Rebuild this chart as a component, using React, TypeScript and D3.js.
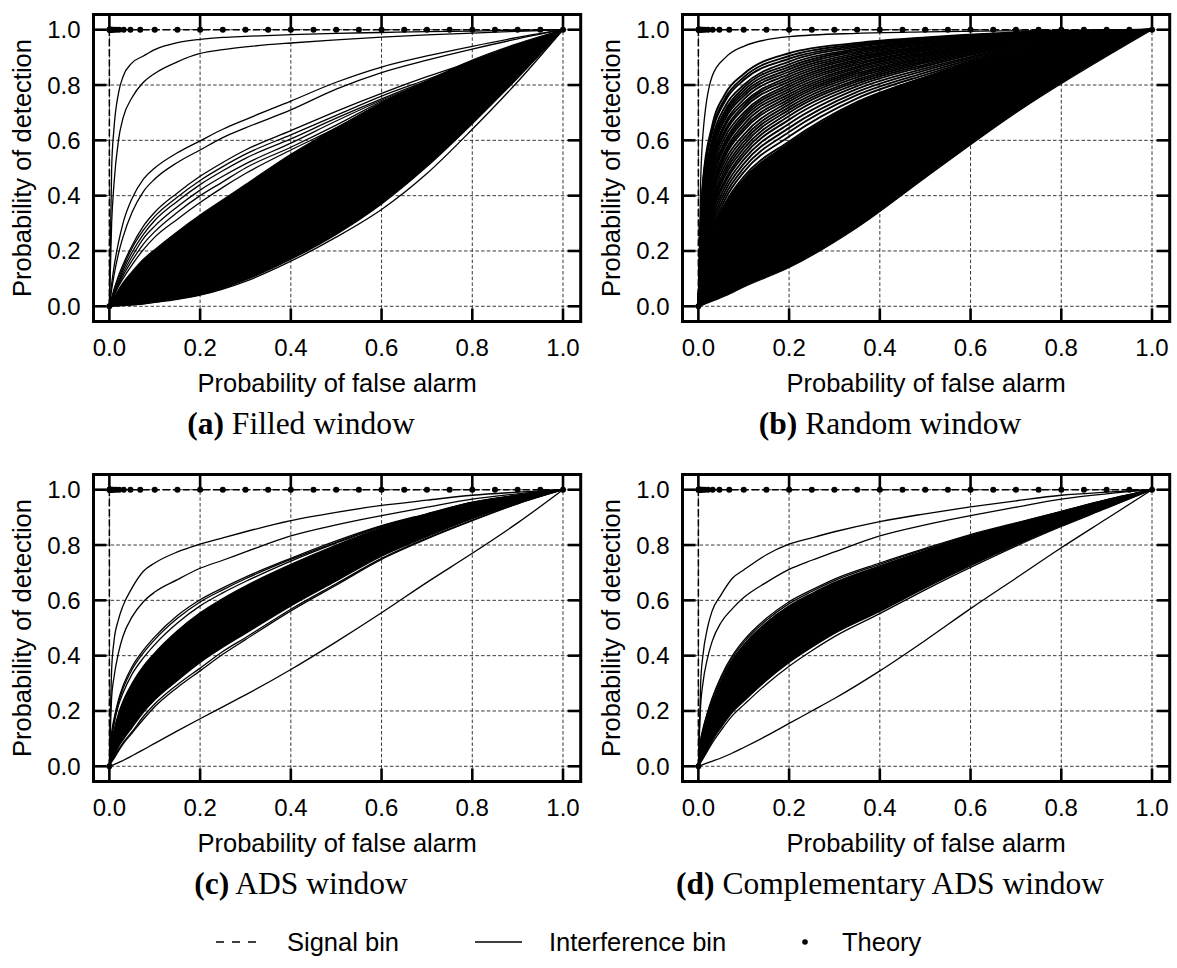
import React from "react";
import * as d3 from "d3";

// ---------- data ----------
const G = [0, 0.005, 0.01, 0.02, 0.03, 0.05, 0.075, 0.1, 0.15, 0.2, 0.25, 0.3, 0.4, 0.5, 0.6, 0.7, 0.8, 0.9, 1];
const GB = [0, 0.005, 0.01, 0.03, 0.06, 0.1, 0.2, 0.35, 0.5, 0.7, 1];

const tickValues = [0, 0.2, 0.4, 0.6, 0.8, 1.0];
const tickLabels = ["0.0", "0.2", "0.4", "0.6", "0.8", "1.0"];

const signalX = [0, 0, 1];
const signalY = [0, 1, 1];

const theoryX = [0, 0, 0.0005, 0.001, 0.0015, 0.0022, 0.0032, 0.0046, 0.0068, 0.01, 0.0147, 0.0215, 0.0316, 0.0464, 0.0681,
  0.1, 0.15, 0.2, 0.25, 0.3, 0.35, 0.4, 0.45, 0.5, 0.55, 0.6, 0.65, 0.7, 0.75, 0.8, 0.85, 0.9, 0.95, 1.0];
const theoryY = [0, 1, 1, 1, 1, 1, 1, 1, 1, 1, 1, 1, 1, 1, 1,
  1, 1, 1, 1, 1, 1, 1, 1, 1, 1, 1, 1, 1, 1, 1, 1, 1, 1, 1];

// (a) Filled window
const filledLines = [
  [0, 0.5, 0.64, 0.77, 0.83, 0.88, 0.905, 0.928, 0.953, 0.965, 0.972, 0.976, 0.982, 0.987, 0.99, 0.993, 0.995, 0.998, 1],
  [0, 0.3, 0.44, 0.6, 0.68, 0.755, 0.81, 0.842, 0.884, 0.914, 0.928, 0.938, 0.952, 0.963, 0.973, 0.981, 0.988, 0.994, 1],
  [0, 0.08, 0.14, 0.23, 0.3, 0.39, 0.46, 0.5, 0.555, 0.598, 0.64, 0.675, 0.742, 0.81, 0.865, 0.905, 0.94, 0.972, 1],
  [0, 0.06, 0.11, 0.19, 0.25, 0.34, 0.415, 0.46, 0.52, 0.565, 0.61, 0.645, 0.71, 0.785, 0.845, 0.89, 0.93, 0.967, 1],
  [0, 0.03, 0.06, 0.11, 0.15, 0.22, 0.29, 0.34, 0.41, 0.47, 0.52, 0.565, 0.635, 0.705, 0.77, 0.83, 0.885, 0.94, 1],
  [0, 0.028, 0.055, 0.1, 0.14, 0.21, 0.275, 0.325, 0.395, 0.455, 0.505, 0.55, 0.62, 0.69, 0.76, 0.82, 0.88, 0.938, 1],
  [0, 0.025, 0.05, 0.09, 0.13, 0.195, 0.26, 0.31, 0.38, 0.44, 0.49, 0.535, 0.605, 0.68, 0.75, 0.815, 0.875, 0.936, 1],
  [0, 0.022, 0.045, 0.085, 0.12, 0.18, 0.245, 0.29, 0.36, 0.42, 0.47, 0.515, 0.59, 0.67, 0.745, 0.81, 0.87, 0.934, 1],
  [0, 0.02, 0.04, 0.078, 0.11, 0.165, 0.225, 0.27, 0.34, 0.4, 0.45, 0.5, 0.575, 0.655, 0.74, 0.808, 0.87, 0.933, 1],
  [0, 0.018, 0.037, 0.072, 0.1, 0.15, 0.205, 0.25, 0.315, 0.375, 0.43, 0.48, 0.565, 0.645, 0.735, 0.805, 0.87, 0.933, 1],
  [0, 0, 0.001, 0.002, 0.003, 0.005, 0.009, 0.014, 0.025, 0.04, 0.062, 0.09, 0.163, 0.25, 0.35, 0.48, 0.64, 0.812, 1],
];
const filledBandTop = [0, 0.015, 0.03, 0.06, 0.085, 0.125, 0.17, 0.205, 0.27, 0.33, 0.385, 0.44, 0.55, 0.645, 0.735, 0.815, 0.89, 0.95, 1];
const filledBandBottom = [0, 0, 0.001, 0.002, 0.003, 0.005, 0.009, 0.015, 0.027, 0.042, 0.065, 0.095, 0.17, 0.26, 0.37, 0.505, 0.66, 0.825, 1];

// (b) Random window (on GB); the first curve is the single outlier drawn thin
const randomLines = [
  [0, 0.45, 0.62, 0.83, 0.9, 0.94, 0.975, 0.987, 0.992, 0.996, 1],
  [0, 0.30, 0.45, 0.65, 0.77, 0.84, 0.915, 0.952, 0.972, 0.990, 1],
  [0, 0.29, 0.44, 0.635, 0.755, 0.828, 0.905, 0.947, 0.969, 0.989, 1],
  [0, 0.28, 0.43, 0.625, 0.745, 0.818, 0.895, 0.942, 0.966, 0.988, 1],
  [0, 0.26, 0.40, 0.60, 0.725, 0.80, 0.885, 0.937, 0.963, 0.986, 1],
  [0, 0.25, 0.385, 0.585, 0.71, 0.79, 0.875, 0.931, 0.960, 0.985, 1],
  [0, 0.24, 0.37, 0.57, 0.70, 0.78, 0.866, 0.926, 0.957, 0.983, 1],
  [0, 0.235, 0.36, 0.56, 0.69, 0.77, 0.857, 0.921, 0.954, 0.982, 1],
  [0, 0.22, 0.35, 0.55, 0.68, 0.76, 0.848, 0.915, 0.950, 0.980, 1],
  [0, 0.21, 0.34, 0.535, 0.665, 0.748, 0.839, 0.909, 0.947, 0.979, 1],
  [0, 0.20, 0.32, 0.52, 0.655, 0.735, 0.830, 0.903, 0.942, 0.977, 1],
  [0, 0.195, 0.31, 0.51, 0.64, 0.725, 0.821, 0.898, 0.939, 0.976, 1],
  [0, 0.19, 0.30, 0.50, 0.63, 0.715, 0.812, 0.892, 0.935, 0.974, 1],
  [0, 0.185, 0.29, 0.485, 0.615, 0.70, 0.803, 0.886, 0.931, 0.972, 1],
  [0, 0.18, 0.28, 0.47, 0.60, 0.69, 0.794, 0.880, 0.927, 0.970, 1],
  [0, 0.17, 0.27, 0.46, 0.59, 0.68, 0.785, 0.874, 0.923, 0.968, 1],
  [0, 0.16, 0.26, 0.45, 0.58, 0.67, 0.776, 0.867, 0.918, 0.966, 1],
  [0, 0.155, 0.25, 0.435, 0.565, 0.657, 0.767, 0.861, 0.914, 0.964, 1],
  [0, 0.15, 0.24, 0.42, 0.555, 0.645, 0.758, 0.855, 0.910, 0.962, 1],
  [0, 0.145, 0.235, 0.41, 0.545, 0.635, 0.749, 0.849, 0.905, 0.960, 1],
  [0, 0.14, 0.22, 0.40, 0.53, 0.62, 0.740, 0.842, 0.900, 0.958, 1],
  [0, 0.13, 0.21, 0.385, 0.515, 0.607, 0.730, 0.835, 0.895, 0.956, 1],
  [0, 0.12, 0.20, 0.37, 0.50, 0.595, 0.720, 0.828, 0.890, 0.953, 1],
  [0, 0.115, 0.19, 0.36, 0.487, 0.583, 0.710, 0.820, 0.885, 0.950, 1],
  [0, 0.11, 0.18, 0.35, 0.475, 0.570, 0.700, 0.813, 0.880, 0.948, 1],
  [0, 0.105, 0.175, 0.34, 0.46, 0.557, 0.688, 0.805, 0.874, 0.945, 1],
  [0, 0.10, 0.17, 0.33, 0.45, 0.545, 0.675, 0.796, 0.868, 0.942, 1],
  [0, 0.095, 0.16, 0.315, 0.435, 0.53, 0.660, 0.786, 0.860, 0.938, 1],
  [0, 0.09, 0.15, 0.30, 0.42, 0.515, 0.645, 0.775, 0.853, 0.935, 1],
  [0, 0.085, 0.14, 0.285, 0.405, 0.50, 0.630, 0.764, 0.845, 0.931, 1],
  [0, 0.08, 0.13, 0.27, 0.39, 0.485, 0.614, 0.752, 0.837, 0.927, 1],
  [0, 0.075, 0.125, 0.26, 0.375, 0.468, 0.596, 0.739, 0.828, 0.922, 1],
  [0, 0.07, 0.12, 0.25, 0.36, 0.45, 0.578, 0.725, 0.818, 0.917, 1],
  [0, 0.065, 0.11, 0.235, 0.345, 0.435, 0.560, 0.711, 0.808, 0.912, 1],
];
const randomBandTop = [0, 0.07, 0.12, 0.26, 0.37, 0.46, 0.59, 0.735, 0.83, 0.925, 1];
const randomBandBottom = [0, 0.002, 0.005, 0.018, 0.038, 0.07, 0.14, 0.285, 0.465, 0.7, 1];

// (c) ADS window
const adsLines = [
  [0, 0.35, 0.45, 0.53, 0.58, 0.645, 0.705, 0.735, 0.775, 0.803, 0.826, 0.848, 0.888, 0.918, 0.943, 0.962, 0.98, 0.991, 1],
  [0, 0.25, 0.32, 0.41, 0.47, 0.54, 0.595, 0.63, 0.675, 0.716, 0.745, 0.775, 0.833, 0.873, 0.906, 0.937, 0.966, 0.985, 1],
  [0, 0.12, 0.17, 0.24, 0.29, 0.36, 0.42, 0.468, 0.545, 0.602, 0.645, 0.684, 0.752, 0.815, 0.87, 0.913, 0.955, 0.98, 1],
  [0, 0.11, 0.16, 0.23, 0.28, 0.35, 0.41, 0.458, 0.535, 0.594, 0.638, 0.678, 0.748, 0.81, 0.868, 0.912, 0.954, 0.98, 1],
  [0, 0.1, 0.15, 0.22, 0.265, 0.333, 0.392, 0.44, 0.518, 0.58, 0.627, 0.668, 0.742, 0.807, 0.866, 0.911, 0.953, 0.98, 1],
  [0, 0.018, 0.03, 0.06, 0.085, 0.125, 0.18, 0.225, 0.295, 0.355, 0.415, 0.465, 0.568, 0.66, 0.752, 0.825, 0.89, 0.95, 1],
  [0, 0.016, 0.028, 0.055, 0.08, 0.12, 0.17, 0.215, 0.285, 0.345, 0.405, 0.458, 0.562, 0.655, 0.748, 0.822, 0.888, 0.949, 1],
  [0, 0.003, 0.006, 0.013, 0.021, 0.038, 0.06, 0.083, 0.128, 0.172, 0.215, 0.258, 0.35, 0.45, 0.555, 0.665, 0.77, 0.88, 1],
];
const adsBandTop = [0, 0.09, 0.13, 0.19, 0.235, 0.3, 0.362, 0.41, 0.49, 0.555, 0.607, 0.652, 0.73, 0.8, 0.862, 0.91, 0.952, 0.979, 1];
const adsBandBottom = [0, 0.02, 0.035, 0.07, 0.095, 0.14, 0.195, 0.24, 0.31, 0.375, 0.43, 0.48, 0.58, 0.67, 0.76, 0.83, 0.895, 0.952, 1];

// (d) Complementary ADS window
const compLines = [
  [0, 0.3, 0.4, 0.5, 0.56, 0.62, 0.68, 0.71, 0.765, 0.803, 0.826, 0.848, 0.885, 0.913, 0.938, 0.96, 0.98, 0.991, 1],
  [0, 0.22, 0.3, 0.39, 0.45, 0.52, 0.57, 0.61, 0.665, 0.712, 0.745, 0.775, 0.833, 0.873, 0.906, 0.937, 0.966, 0.985, 1],
  [0, 0.095, 0.135, 0.195, 0.245, 0.325, 0.4, 0.455, 0.535, 0.595, 0.638, 0.677, 0.735, 0.788, 0.838, 0.88, 0.922, 0.964, 1],
  [0, 0.09, 0.13, 0.19, 0.24, 0.318, 0.393, 0.448, 0.528, 0.588, 0.632, 0.671, 0.73, 0.784, 0.835, 0.878, 0.921, 0.963, 1],
  [0, 0.014, 0.027, 0.055, 0.083, 0.13, 0.183, 0.222, 0.297, 0.362, 0.418, 0.469, 0.552, 0.638, 0.719, 0.796, 0.867, 0.933, 1],
  [0, 0.003, 0.006, 0.012, 0.018, 0.03, 0.048, 0.068, 0.11, 0.155, 0.2, 0.245, 0.345, 0.455, 0.57, 0.68, 0.79, 0.895, 1],
];
const compBandTop = [0, 0.08, 0.12, 0.18, 0.23, 0.31, 0.385, 0.44, 0.52, 0.58, 0.625, 0.665, 0.725, 0.78, 0.832, 0.877, 0.92, 0.963, 1];
const compBandBottom = [0, 0.015, 0.03, 0.06, 0.09, 0.14, 0.195, 0.235, 0.31, 0.375, 0.43, 0.48, 0.56, 0.645, 0.725, 0.8, 0.87, 0.935, 1];

const captionTags = ["(a)", "(b)", "(c)", "(d)"];
const captionTexts = ["Filled window", "Random window", "ADS window", "Complementary ADS window"];
const legendLabels = ["Signal bin", "Interference bin", "Theory"];

// ---------- drawing ----------
const SANS = "'Liberation Sans', Arial, Helvetica, sans-serif";
const SERIF = "'Liberation Serif', 'Times New Roman', serif";

type PanelProps = {
  ox: number;
  oy: number;
  xs: number[];
  lines: number[][];
  bandTop: number[];
  bandBottom: number[];
  tag: string;
  caption: string;
  lw: number;
  thin: number;
};

function Panel({ ox, oy, xs, lines, bandTop, bandBottom, tag, caption, lw, thin }: PanelProps) {
  const L = 93.5 + ox, R = 580.7 + ox, T = 14.5 + oy, B = 321.5 + oy;
  const x = d3.scaleLinear().domain([-0.035, 1.039]).range([L, R]);
  const y = d3.scaleLinear().domain([-0.055, 1.055]).range([B, T]);
  const line = d3.line<number>().x((_, i) => x(xs[i])).y((d) => y(d)).curve(d3.curveMonotoneX);
  const area = d3.area<number>().x((_, i) => x(xs[i])).y0((_, i) => y(bandBottom[i])).y1((d) => y(d)).curve(d3.curveMonotoneX);
  const sig = d3.line<number>().x((_, i) => x(signalX[i])).y((d) => y(d));
  const tl = 13;
  return (
    <g>
      {tickValues.map((t, i) => (
        <g key={"g" + i}>
          <line x1={x(t)} x2={x(t)} y1={T} y2={B} stroke="#222" strokeWidth={0.9} strokeDasharray="3.5,2.2" />
          <line x1={L} x2={R} y1={y(t)} y2={y(t)} stroke="#222" strokeWidth={0.9} strokeDasharray="3.5,2.2" />
        </g>
      ))}
      <path d={area(bandTop) || ""} fill="#000" stroke="#000" strokeWidth={1.2} />
      {lines.map((ys, i) => (
        <path key={"l" + i} d={line(ys) || ""} fill="none" stroke="#000" strokeWidth={i < thin ? 1.3 : lw} />
      ))}
      <path d={sig(signalY) || ""} fill="none" stroke="#000" strokeWidth={1.5} strokeDasharray="7,3" />
      {theoryX.map((tx, i) => (
        <circle key={"t" + i} cx={x(tx)} cy={y(theoryY[i])} r={3} fill="#000" />
      ))}
      <rect x={L} y={T} width={R - L} height={B - T} fill="none" stroke="#000" strokeWidth={3} />
      {tickValues.map((t, i) => (
        <g key={"k" + i} stroke="#000" strokeWidth={2.6}>
          <line x1={x(t)} x2={x(t)} y1={B} y2={B - tl} />
          <line x1={x(t)} x2={x(t)} y1={T} y2={T + tl} />
          <line x1={L} x2={L + tl} y1={y(t)} y2={y(t)} />
          <line x1={R} x2={R - tl} y1={y(t)} y2={y(t)} />
        </g>
      ))}
      {tickValues.map((t, i) => (
        <text key={"xl" + i} x={x(t)} y={B + 34.5} textAnchor="middle" fontFamily={SANS} fontSize={24}>
          {tickLabels[i]}
        </text>
      ))}
      {tickValues.map((t, i) => (
        <text key={"yl" + i} x={L - 13} y={y(t) + 8.5} textAnchor="end" fontFamily={SANS} fontSize={24}>
          {tickLabels[i]}
        </text>
      ))}
      <text x={(L + R) / 2} y={B + 70} textAnchor="middle" fontFamily={SANS} fontSize={25.5}>
        Probability of false alarm
      </text>
      <text
        transform={`translate(${31 + ox},${(T + B) / 2}) rotate(-90)`}
        textAnchor="middle"
        fontFamily={SANS}
        fontSize={25.5}
      >
        Probability of detection
      </text>
      <text x={301 + ox} y={434 + oy} textAnchor="middle" fontFamily={SERIF} fontSize={31.5}>
        <tspan fontWeight="bold">{tag}</tspan> {caption}
      </text>
    </g>
  );
}

export default function App() {
  const ly = 942;
  return (
    <svg width={1177} height={968} style={{ display: "block", position: "absolute", left: 0, top: 0, background: "#fff" }}>
      <rect width={1177} height={968} fill="#fff" />
      <Panel ox={0} oy={0} xs={G} lines={filledLines} bandTop={filledBandTop} bandBottom={filledBandBottom} tag={captionTags[0]} caption={captionTexts[0]} lw={1.3} thin={0} />
      <Panel ox={589} oy={0} xs={GB} lines={randomLines} bandTop={randomBandTop} bandBottom={randomBandBottom} tag={captionTags[1]} caption={captionTexts[1]} lw={1.9} thin={1} />
      <Panel ox={0} oy={460} xs={G} lines={adsLines} bandTop={adsBandTop} bandBottom={adsBandBottom} tag={captionTags[2]} caption={captionTexts[2]} lw={1.3} thin={0} />
      <Panel ox={589} oy={460} xs={G} lines={compLines} bandTop={compBandTop} bandBottom={compBandBottom} tag={captionTags[3]} caption={captionTexts[3]} lw={1.3} thin={0} />
      <line x1={216} x2={256} y1={ly} y2={ly} stroke="#000" strokeWidth={1.5} strokeDasharray="8,8" />
      <text x={287} y={ly + 9} fontFamily={SANS} fontSize={25.5}>{legendLabels[0]}</text>
      <line x1={475} x2={522} y1={ly} y2={ly} stroke="#000" strokeWidth={1.5} />
      <text x={549} y={ly + 9} fontFamily={SANS} fontSize={25.5}>{legendLabels[1]}</text>
      <circle cx={805} cy={ly} r={2.8} fill="#000" />
      <text x={842} y={ly + 9} fontFamily={SANS} fontSize={25.5}>{legendLabels[2]}</text>
    </svg>
  );
}
